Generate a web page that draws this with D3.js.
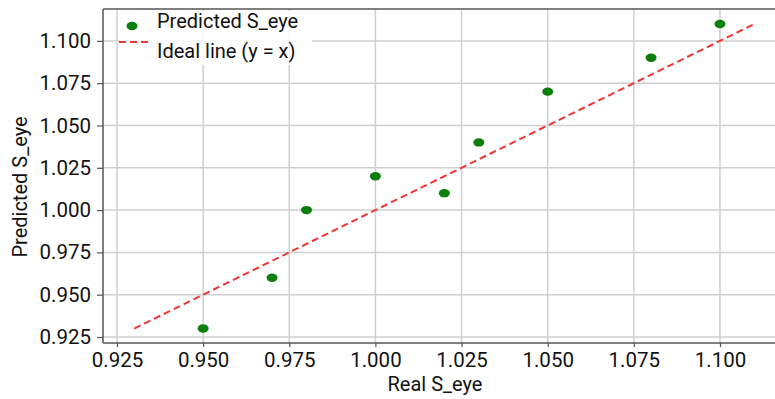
<!DOCTYPE html>
<html>
<head>
<meta charset="utf-8">
<script src="https://cdn.jsdelivr.net/npm/d3@7"></script>
<style>
  body { margin: 0; background: #fff; }
  svg { display: block; font-family: Roboto, "Noto Sans", sans-serif; }
</style>
</head>
<body>
<div id="chart"></div>
<script>
// data
var realValues = [0.95, 0.97, 0.98, 1.00, 1.02, 1.03, 1.05, 1.08, 1.10];
var predictedValues = [0.93, 0.96, 1.00, 1.02, 1.01, 1.04, 1.07, 1.09, 1.11];
var idealLine = [0.93, 1.11];
var xTicks = [0.925, 0.950, 0.975, 1.000, 1.025, 1.050, 1.075, 1.100];
var yTicks = [0.925, 0.950, 0.975, 1.000, 1.025, 1.050, 1.075, 1.100];
var legendLabels = ["Predicted S_eye", "Ideal line (y = x)"];

var width = 775, height = 399;
var plotLeft = 103, plotTop = 9, plotBottom = 343, plotRight = 778;

var x = d3.scaleLinear().domain([0.92094, 1.11684]).range([plotLeft, plotRight]);
var y = d3.scaleLinear().domain([0.92145, 1.11885]).range([plotBottom, plotTop]);

var svg = d3.select("#chart")
    .append("svg")
    .attr("width", width)
    .attr("height", height);

// grid
svg.append("g")
    .selectAll("line")
    .data(xTicks)
    .enter()
    .append("line")
    .attr("x1", function(d) { return x(d); })
    .attr("x2", function(d) { return x(d); })
    .attr("y1", plotTop)
    .attr("y2", plotBottom)
    .attr("stroke", "#cfcfcf")
    .attr("stroke-width", 1.5);

svg.append("g")
    .selectAll("line")
    .data(yTicks)
    .enter()
    .append("line")
    .attr("x1", plotLeft)
    .attr("x2", plotRight)
    .attr("y1", function(d) { return y(d); })
    .attr("y2", function(d) { return y(d); })
    .attr("stroke", "#cfcfcf")
    .attr("stroke-width", 1.5);

// axes
var xAxis = svg.append("g")
    .attr("transform", "translate(0," + plotBottom + ")")
    .call(d3.axisBottom(x).tickValues(xTicks).tickFormat(d3.format(".3f")).tickSizeOuter(0).tickSize(4).tickPadding(5.5));

var yAxis = svg.append("g")
    .attr("transform", "translate(" + plotLeft + ",0)")
    .call(d3.axisLeft(y).tickValues(yTicks).tickFormat(d3.format(".3f")).tickSizeOuter(0).tickSize(6).tickPadding(6));

[xAxis, yAxis].forEach(function(a) {
  a.select(".domain").attr("stroke", "#555").attr("stroke-width", 1.5);
  a.selectAll(".tick line").attr("stroke", "#555").attr("stroke-width", 1.2);
  a.selectAll(".tick text")
      .attr("font-family", "Roboto, sans-serif")
      .attr("font-size", 20.5)
      .attr("fill", "#111");
});
xAxis.select(".domain").attr("d", "M" + plotLeft + ",0H" + plotRight);
yAxis.select(".domain").attr("d", "M0," + plotTop + "V" + plotBottom);

// top spine
svg.append("line")
    .attr("x1", plotLeft).attr("x2", plotRight)
    .attr("y1", plotTop).attr("y2", plotTop)
    .attr("stroke", "#555")
    .attr("stroke-width", 1.5);

// ideal line
svg.append("line")
    .attr("x1", x(idealLine[0])).attr("y1", y(idealLine[0]))
    .attr("x2", x(idealLine[1])).attr("y2", y(idealLine[1]))
    .attr("stroke", "#f03535")
    .attr("stroke-width", 2)
    .attr("stroke-dasharray", "7,4");

// points
svg.append("g")
    .selectAll("ellipse")
    .data(realValues)
    .enter()
    .append("ellipse")
    .attr("cx", function(d) { return x(d); })
    .attr("cy", function(d, i) { return y(predictedValues[i]); })
    .attr("rx", 5.5)
    .attr("ry", 4.2)
    .attr("fill", "#0b7f0b");

// legend
var legend = svg.append("g");
legend.append("rect")
    .attr("x", 120).attr("y", 11)
    .attr("width", 192).attr("height", 54)
    .attr("fill", "#fff")
    .attr("fill-opacity", 0.85);

legend.append("ellipse")
    .attr("cx", 132).attr("cy", 26)
    .attr("rx", 5.5).attr("ry", 4.2)
    .attr("fill", "#0b7f0b");

legend.append("line")
    .attr("x1", 119).attr("x2", 148)
    .attr("y1", 42).attr("y2", 42)
    .attr("stroke", "#f03535")
    .attr("stroke-width", 2)
    .attr("stroke-dasharray", "7,4");

legend.selectAll("text")
    .data(legendLabels)
    .enter()
    .append("text")
    .attr("x", 157)
    .attr("y", function(d, i) { return 27.5 + i * 30.5; })
    .attr("font-size", 20)
    .attr("fill", "#111")
    .text(function(d) { return d; });

// axis labels
svg.append("text")
    .attr("x", 435)
    .attr("y", 391)
    .attr("text-anchor", "middle")
    .attr("font-size", 20)
    .attr("fill", "#111")
    .text("Real S_eye");

svg.append("text")
    .attr("transform", "translate(27,187) rotate(-90)")
    .attr("text-anchor", "middle")
    .attr("font-size", 20)
    .attr("fill", "#111")
    .text("Predicted S_eye");
</script>
</body>
</html>
